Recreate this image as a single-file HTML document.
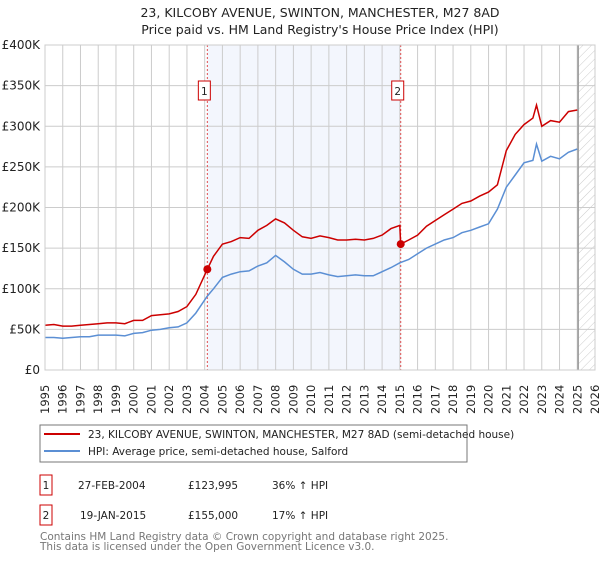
<!DOCTYPE html>
<html><head><meta charset="utf-8"><style>
body{margin:0;background:#fff;width:600px;height:560px;overflow:hidden;font-family:"DejaVu Sans","Liberation Sans",sans-serif;}
svg text{font-family:"DejaVu Sans","Liberation Sans",sans-serif;}
</style></head><body>
<svg id="c" width="600" height="560" xmlns="http://www.w3.org/2000/svg">
<defs><pattern id="h" width="6" height="6" patternUnits="userSpaceOnUse" patternTransform="rotate(45)"><line x1="0" y1="0" x2="0" y2="6" stroke="#ccc" stroke-width="1"/></pattern></defs>
<text x="320" y="17" text-anchor="middle" font-size="12.5" fill="#222">23, KILCOBY AVENUE, SWINTON, MANCHESTER, M27 8AD</text>
<text x="320" y="34" text-anchor="middle" font-size="12.5" fill="#222">Price paid vs. HM Land Registry's House Price Index (HPI)</text>
<g id="plot"></g>
<g>
<rect x="40" y="425" width="427" height="37" fill="#fff" stroke="#777"/>
<line x1="44" y1="434" x2="80" y2="434" stroke="#cc0000" stroke-width="2"/>
<text x="88" y="438" font-size="10.5" fill="#222">23, KILCOBY AVENUE, SWINTON, MANCHESTER, M27 8AD (semi-detached house)</text>
<line x1="44" y1="451" x2="80" y2="451" stroke="#5b8fd4" stroke-width="2"/>
<text x="88" y="455" font-size="10.5" fill="#222">HPI: Average price, semi-detached house, Salford</text>
</g>
<g font-size="10.5" fill="#222">
<rect x="40" y="475" width="12" height="20" fill="#fff" stroke="#cc0000"/>
<text x="46" y="489" text-anchor="middle">1</text>
<text x="78" y="489">27-FEB-2004</text>
<text x="188" y="489">£123,995</text>
<text x="272" y="489">36% ↑ HPI</text>
<rect x="40" y="505" width="12" height="20" fill="#fff" stroke="#cc0000"/>
<text x="46" y="519" text-anchor="middle">2</text>
<text x="80" y="519">19-JAN-2015</text>
<text x="188" y="519">£155,000</text>
<text x="272" y="519">17% ↑ HPI</text>
</g>
<text x="40" y="540" font-size="10.5" fill="#777">Contains HM Land Registry data © Crown copyright and database right 2025.</text>
<text x="40" y="550" font-size="10.5" fill="#777">This data is licensed under the Open Government Licence v3.0.</text>
</svg>
<script>
const years=[1995,1996,1997,1998,1999,2000,2001,2002,2003,2004,2005,2006,2007,2008,2009,2010,2011,2012,2013,2014,2015,2016,2017,2018,2019,2020,2021,2022,2023,2024,2025,2026];
const yTicks=[0,50,100,150,200,250,300,350,400];
const yTickLabels=["£0","£50K","£100K","£150K","£200K","£250K","£300K","£350K","£400K"];
const priceT=[1995,1995.5,1996,1996.5,1997,1997.5,1998,1998.5,1999,1999.5,2000,2000.5,2001,2001.5,2002,2002.5,2003,2003.5,2004.15,2004.5,2005,2005.5,2006,2006.5,2007,2007.5,2008,2008.5,2009,2009.5,2010,2010.5,2011,2011.5,2012,2012.5,2013,2013.5,2014,2014.5,2015.0,2015.05,2015.5,2016,2016.5,2017,2017.5,2018,2018.5,2019,2019.5,2020,2020.5,2021,2021.5,2022,2022.5,2022.7,2023,2023.5,2024,2024.5,2025];
const priceV=[55,56,54,54,55,56,57,58,58,57,61,61,67,68,69,72,78,93,124,140,155,158,163,162,172,178,186,181,172,164,162,165,163,160,160,161,160,162,166,174,178,155,160,166,177,184,191,198,205,208,214,219,228,270,290,302,310,326,300,307,305,318,320];
const hpiT=[1995,1995.5,1996,1996.5,1997,1997.5,1998,1998.5,1999,1999.5,2000,2000.5,2001,2001.5,2002,2002.5,2003,2003.5,2004.15,2004.5,2005,2005.5,2006,2006.5,2007,2007.5,2008,2008.5,2009,2009.5,2010,2010.5,2011,2011.5,2012,2012.5,2013,2013.5,2014,2014.5,2015,2015.5,2016,2016.5,2017,2017.5,2018,2018.5,2019,2019.5,2020,2020.5,2021,2021.5,2022,2022.5,2022.7,2023,2023.5,2024,2024.5,2025];
const hpiV=[40,40,39,40,41,41,43,43,43,42,45,46,49,50,52,53,58,70,91,100,114,118,121,122,128,132,141,133,124,118,118,120,117,115,116,117,116,116,121,126,132,136,143,150,155,160,163,169,172,176,180,198,225,240,255,258,278,257,263,260,268,272];
const sales=[{t:2004.15,v:123.995,n:"1"},{t:2015.05,v:155,n:"2"}];
const X0=45,X1=595,Y0=370,Y1=45;
function xs(t){return X0+(t-1995)/(2026-1995)*(X1-X0);}
function ys(v){return Y0-v/400*(Y0-Y1);}
const NS="http://www.w3.org/2000/svg";
const g=document.getElementById('plot');
function mk(tag,attrs,parent){const e=document.createElementNS(NS,tag);for(const k in attrs)e.setAttribute(k,attrs[k]);(parent||g).appendChild(e);return e;}
let e;
e=mk('rect',{x:xs(sales[0].t),y:Y1,width:xs(sales[1].t)-xs(sales[0].t),height:Y0-Y1,fill:'#f3f6fd'});


e=mk('rect',{x:xs(2025.05),y:Y1,width:X1-xs(2025.05),height:Y0-Y1,fill:'url(#h)'});


years.forEach(y=>{const x=xs(y);
e=mk('line',{x1:x,x2:x,y1:Y1,y2:Y0,stroke:'#ccc','stroke-width':1});


e=mk('text',{x:0,y:0,transform:`translate(${x+4},${Y0+44}) rotate(-90)`,'font-size':11.5,fill:'#222'});
e.textContent=y;


});
yTicks.forEach((v,i)=>{const y=ys(v);
e=mk('line',{x1:X0,x2:X1,y1:y,y2:y,stroke:'#ccc','stroke-width':1});


e=mk('text',{x:40,y:y+4,'text-anchor':'end','font-size':12,fill:'#222'});
e.textContent=yTickLabels[i];


});
e=mk('line',{x1:xs(2025.05),x2:xs(2025.05),y1:Y1,y2:Y0,stroke:'#999','stroke-width':1.5});


sales.forEach(s=>{const x=xs(s.t);
e=mk('line',{x1:x,x2:x,y1:Y1,y2:Y0,stroke:'#e05050','stroke-width':1,'stroke-dasharray':'2,2'});


});
function path(T,V){return T.map((t,i)=>(i?'L':'M')+xs(t).toFixed(1)+','+ys(V[i]).toFixed(1)).join('');}
e=mk('path',{d:path(hpiT,hpiV),fill:'none',stroke:'#5b8fd4','stroke-width':1.5});


e=mk('path',{d:path(priceT,priceV),fill:'none',stroke:'#cc0000','stroke-width':1.5});


sales.forEach(s=>{const x=xs(s.t);
e=mk('circle',{cx:x,cy:ys(s.v),r:4,fill:'#cc0000'});


e=mk('rect',{x:x-9,y:81,width:12,height:19,fill:'#fff',stroke:'#cc0000'});


e=mk('text',{x:x-3,y:95,'text-anchor':'middle','font-size':10.5,fill:'#222'});
e.textContent=s.n;


});
e=mk('rect',{x:X0,y:Y1,width:X1-X0,height:Y0-Y1,fill:'none',stroke:'#ccc'});


</script>
</body></html>
